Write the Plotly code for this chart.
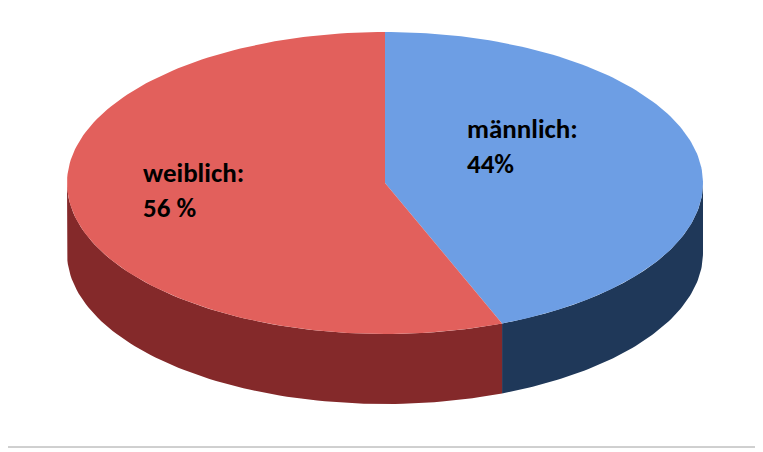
import numpy as np
import plotly.graph_objects as go

# Data
categories = ["männlich", "weiblich"]
shares = [44, 56]
label_texts = ["männlich:<br>44%", "weiblich:<br>56 %"]

top_colors = ["#6D9EE4", "#E2605C"]
side_colors = ["#1F3859", "#84292A"]

# ellipse geometry (pixel-like axis units)
cx, cy, rx, ry, depth = 385, 183, 318, 151, 70


def pt(t, dy=0):
    return cx + rx * np.sin(t), cy - ry * np.cos(t) + dy


fig = go.Figure()
total = sum(shares)
bounds = np.cumsum([0] + shares) / total * 2 * np.pi

# sides first (front half: pi/2 .. 3pi/2)
for i in range(len(shares)):
    a0, a1 = max(bounds[i], np.pi / 2), min(bounds[i + 1], 3 * np.pi / 2)
    if a1 <= a0:
        continue
    t = np.linspace(a0, a1, 80)
    xt, yt = pt(t)
    xb, yb = pt(t[::-1], depth)
    fig.add_trace(go.Scatter(x=np.r_[xt, xb], y=np.r_[yt, yb], fill="toself",
                             fillcolor=side_colors[i], line=dict(width=0),
                             mode="lines", hoverinfo="skip", showlegend=False))

# top faces
for i in range(len(shares)):
    t = np.linspace(bounds[i], bounds[i + 1], 150)
    x, y = pt(t)
    fig.add_trace(go.Scatter(x=np.r_[cx, x, cx], y=np.r_[cy, y, cy], fill="toself",
                             fillcolor=top_colors[i], line=dict(width=0),
                             mode="lines", name=categories[i], showlegend=False))

fig.add_annotation(x=465, y=146, text="<b>" + label_texts[0] + "</b>", showarrow=False,
                   xanchor="left", align="left", font=dict(size=27, color="black", family="Carlito, Liberation Sans"))
fig.add_annotation(x=141, y=190, text="<b>" + label_texts[1] + "</b>", showarrow=False,
                   xanchor="left", align="left", font=dict(size=27, color="black", family="Carlito, Liberation Sans"))

fig.add_shape(type="rect", x0=5, y0=4, x1=757, y1=447, line=dict(color="#A0A0A0", width=1))

# page body has an 8px margin, so shift the axis window by the same amount
fig.update_xaxes(range=[8, 771], visible=False, fixedrange=True)
fig.update_yaxes(range=[460, 8], visible=False, fixedrange=True)
fig.update_layout(width=763, height=452, margin=dict(l=0, r=0, t=0, b=0),
                  plot_bgcolor="white", paper_bgcolor="white")

fig.write_html("out.html")
